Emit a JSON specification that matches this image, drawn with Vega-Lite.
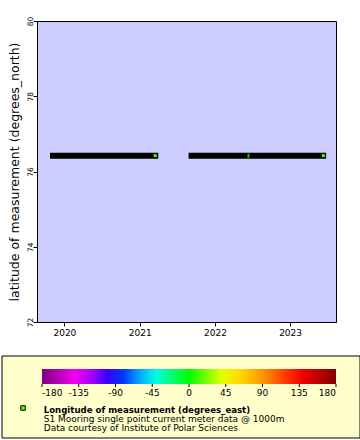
{
  "$schema": "https://vega.github.io/schema/vega-lite/v6.json",
  "background": "white",
  "padding": {"left": 1, "top": 15, "right": 0, "bottom": 0},
  "config": {
    "font": "DejaVu Sans",
    "axis": {"domainColor": "black", "tickColor": "black", "labelColor": "black", "titleColor": "black", "grid": false}
  },
  "columns": 1,
  "spacing": 17,
  "resolve": {"scale": {"fill": "independent"}, "legend": {"fill": "independent"}},
  "concat": [
    {
      "width": 299,
      "height": 301,
      "view": {"fill": "#ccccff", "stroke": "black", "strokeWidth": 1},
      "layer": [
        {
          "data": {"values": [
            {"start": "2019-10-23", "end": "2021-04-01", "lat": 76.42},
            {"start": "2021-08-26", "end": "2023-06-25", "lat": 76.42}
          ]},
          "mark": {"type": "rule", "strokeWidth": 6, "color": "black", "strokeCap": "butt"},
          "encoding": {
            "x": {"field": "start", "type": "temporal",
              "scale": {"domain": ["2019-08-21", "2023-08-12"]},
              "axis": {"format": "%Y", "tickCount": {"interval": "year", "step": 1}, "labelFontSize": 9, "tickSize": 4, "labelPadding": 2, "title": null, "labelFlush": false}},
            "x2": {"field": "end"},
            "y": {"field": "lat", "type": "quantitative",
              "scale": {"domain": [72, 80], "nice": false, "zero": false},
              "axis": {
                "values": [72, 73, 74, 75, 76, 77, 78, 79, 80],
                "labelExpr": "datum.value % 2 == 0 ? datum.label : ''",
                "labelAngle": -90,
                "labelFontSize": 7.5,
                "labelPadding": -1,
                "tickSize": {"condition": {"test": "datum.value % 2 == 0", "value": 4}, "value": 2.5},
                "title": "latitude of measurement (degrees_north)",
                "titleFontSize": 12.5,
                "titleFontWeight": "normal",
                "titlePadding": 5
              }}
          }
        },
        {
          "data": {"values": [
            {"time": "2021-03-17", "lat": 76.42, "lon": 13.9},
            {"time": "2023-06-12", "lat": 76.42, "lon": 13.9}
          ]},
          "mark": {"type": "point", "shape": "square", "filled": true, "size": 16, "stroke": "black", "strokeWidth": 1, "opacity": 1},
          "encoding": {
            "x": {"field": "time", "type": "temporal"},
            "y": {"field": "lat", "type": "quantitative"},
            "fill": {"field": "lon", "type": "quantitative",
              "scale": {"domain": [-180, -135, -90, -45, 0, 45, 90, 135, 180], "range": ["#800080", "#ff00ff", "#0000ff", "#00ffff", "#00ff00", "#ffff00", "#ff9900", "#ff0000", "#800000"], "interpolate": "rgb"},
              "legend": null}
          }
        },
        {
          "data": {"values": [
            {"time": "2022-06-13", "lat": 76.42, "lon": 13.9}
          ]},
          "mark": {"type": "tick", "orient": "vertical", "thickness": 2, "size": 4},
          "encoding": {
            "x": {"field": "time", "type": "temporal"},
            "y": {"field": "lat", "type": "quantitative"},
            "fill": {"field": "lon", "type": "quantitative", "legend": null}
          }
        }
      ]
    },
    {
      "width": 287,
      "height": 82,
      "view": {"stroke": null, "fill": null},
      "title": {
        "text": "Longitude of measurement (degrees_east)",
        "subtitle": ["S1 Mooring single point current meter data @ 1000m", "Data courtesy of Institute of Polar Sciences"],
        "anchor": "start", "frame": "group", "orient": "top", "offset": -77, "dx": 6.7,
        "font": "DejaVu Sans", "fontSize": 8.6, "fontWeight": "bold", "color": "black", "lineHeight": 9,
        "subtitleFont": "DejaVu Sans", "subtitleFontSize": 9, "subtitleColor": "black", "subtitlePadding": 0, "subtitleLineHeight": 9
      },
      "layer": [
        {
          "data": {"values": [{"panel": "legend"}]},
          "mark": {"type": "rect", "fill": "#ffffcc", "stroke": "black", "strokeWidth": 1},
          "encoding": {
            "x": {"value": -35},
            "x2": {"value": 323},
            "y": {"value": 0},
            "y2": {"value": 82}
          }
        },
        {
          "data": {"values": [{"lon": -180}, {"lon": -135}, {"lon": -90}, {"lon": -45}, {"lon": 0}, {"lon": 45}, {"lon": 90}, {"lon": 135}, {"lon": 180}]},
          "mark": {"type": "rule", "color": "black", "strokeWidth": 1},
          "encoding": {
            "x": {"field": "lon", "type": "quantitative", "scale": {"domain": [-180, 180], "range": [5, 299], "nice": false, "zero": false}, "axis": null},
            "y": {"value": 28},
            "y2": {"value": 31}
          }
        },
        {
          "data": {"values": [{"lon": 13.9}]},
          "mark": {"type": "point", "shape": "square", "filled": true, "size": 20, "stroke": "black", "strokeWidth": 1, "opacity": 1},
          "encoding": {
            "x": {"value": -14},
            "y": {"value": 52},
            "fill": {"field": "lon", "type": "quantitative",
              "scale": {"domain": [-180, -135, -90, -45, 0, 45, 90, 135, 180], "range": ["#800080", "#ff00ff", "#0000ff", "#00ffff", "#00ff00", "#ffff00", "#ff9900", "#ff0000", "#800000"], "interpolate": "rgb"},
              "legend": {"orient": "none", "legendX": 5, "legendY": 13, "direction": "horizontal", "gradientLength": 294, "gradientThickness": 15, "gradientStrokeWidth": 0, "title": null, "padding": 0,
                "values": [-180, -135, -90, -45, 0, 45, 90, 135, 180], "labelAlign": "center", "labelOverlap": false, "labelFontSize": 9, "labelColor": "black", "labelOffset": 5,
                "labelExpr": "datum.value < 0 ? '-' + abs(datum.value) : '' + datum.value"}}
          }
        }
      ]
    }
  ]
}
